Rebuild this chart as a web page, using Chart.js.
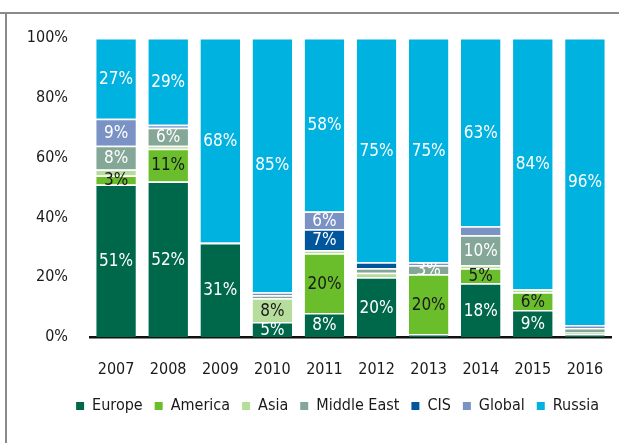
<!DOCTYPE html>
<html>
<head>
<meta charset="utf-8">
<script src="https://cdn.jsdelivr.net/npm/chart.js@4.4.0/dist/chart.umd.min.js"></script>
<style>
  html, body { margin: 0; padding: 0; background: #fff; }
  .rule-top { position: absolute; left: 0; top: 12px; width: 619px; height: 2px; background: #8a8a8a; }
  .rule-side { position: absolute; left: 5px; top: 12px; width: 2px; height: 431px; background: #8a8a8a; }
  #chart { position: absolute; left: 0; top: 0; }
</style>
</head>
<body>
<div class="rule-top"></div>
<div class="rule-side"></div>
<canvas id="chart" width="619" height="443"></canvas>
<script>
const years = ['2007', '2008', '2009', '2010', '2011', '2012', '2013', '2014', '2015', '2016'];

// share of each region, percent
const europe     = [51, 52, 31.4,  5,  8, 20,  1, 18,  9,  1];
const america    = [ 3, 11,    0,  0, 20,  0, 20,  5,  6,  0];
const asia       = [ 2,  1,    0,  8,  1, 1.5, 0,  1,  1, 0.5];
const middleEast = [ 8,  6,    0,  1,  0, 1.5, 3, 10,  0, 1.5];
const cis        = [ 0,  0,    0,  0,  7,  2,  0,  0,  0,  0];
const global     = [ 9,  1,  0.2,  1,  6,  0,  1,  3,  0,  1];
const russia     = [27, 29, 68.4, 85, 58, 75, 75, 63, 84, 96];

const FONT = "'DejaVu Sans Condensed', 'DejaVu Sans', sans-serif";

const series = (label, data, color, labelColor, labelMin) => ({
  label, data,
  backgroundColor: color,
  borderColor: '#ffffff',
  borderWidth: { top: 1.5, right: 0, bottom: 0, left: 0 },
  labelColor, labelMin
});

// percent labels in the middle of each segment
const barLabels = {
  id: 'barLabels',
  afterDatasetsDraw(chart) {
    const ctx = chart.ctx;
    ctx.save();
    ctx.font = '17px ' + FONT;
    ctx.textAlign = 'center';
    ctx.textBaseline = 'middle';
    chart.data.datasets.forEach((ds, i) => {
      chart.getDatasetMeta(i).data.forEach((bar, j) => {
        const v = ds.data[j];
        if (v < ds.labelMin) return;
        ctx.fillStyle = ds.labelColor;
        ctx.fillText(Math.round(v) + '%', bar.x, (bar.y + bar.base) / 2 + 1);
      });
    });
    ctx.restore();
  }
};

new Chart(document.getElementById('chart'), {
  type: 'bar',
  data: {
    labels: years,
    datasets: [
      series('Europe', europe, '#00684a', '#ffffff', 3),
      series('America', america, '#6abd2b', '#1a1a1a', 3),
      series('Asia', asia, '#b6dd9b', '#1a1a1a', 3),
      series('Middle East', middleEast, '#85a797', '#ffffff', 3),
      series('CIS', cis, '#00569c', '#ffffff', 3),
      series('Global', global, '#7b93c4', '#ffffff', 5),
      series('Russia', russia, '#00b2df', '#ffffff', 3)
    ]
  },
  options: {
    responsive: false,
    animation: false,
    datasets: { bar: { categoryPercentage: 1, barPercentage: 0.76 } },
    layout: { padding: { left: 10, right: 8, top: 38, bottom: 19 } },
    scales: {
      x: {
        stacked: true,
        grid: { display: false },
        border: { display: true, color: '#111111', width: 2.5 },
        ticks: { color: '#1a1a1a', padding: 15, font: { family: FONT, size: 16 } },
        afterFit: (scale) => { scale.height = 49; }
      },
      y: {
        stacked: true,
        min: 0,
        max: 100,
        grid: { display: false },
        border: { display: false },
        ticks: {
          stepSize: 20,
          color: '#1a1a1a',
          padding: 14,
          font: { family: FONT, size: 16 },
          callback: (v) => v + '%'
        },
        afterFit: (scale) => { scale.width = 80; }
      }
    },
    plugins: {
      tooltip: { enabled: false },
      legend: {
        position: 'bottom',
        align: 'end',
        labels: {
          boxWidth: 8,
          boxHeight: 8,
          padding: 12,
          color: '#1a1a1a',
          font: { family: FONT, size: 16 },
          generateLabels: (chart) =>
            Chart.defaults.plugins.legend.labels.generateLabels(chart).map(l => ({ ...l, lineWidth: 0 }))
        }
      }
    }
  },
  plugins: [barLabels]
});
</script>
</body>
</html>
